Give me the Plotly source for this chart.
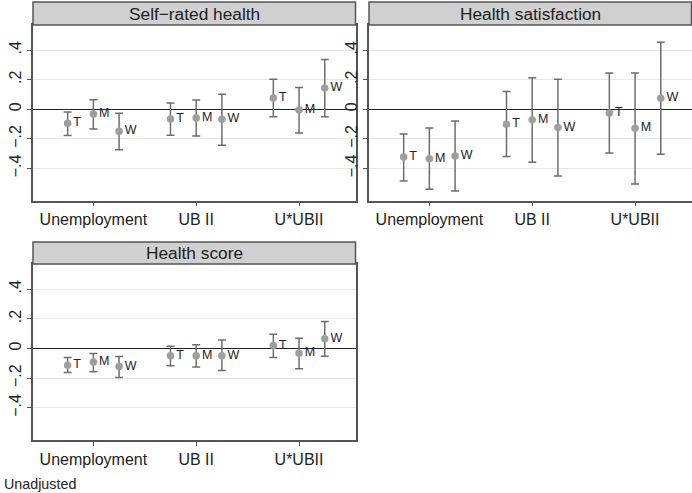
import plotly.graph_objects as go

W, H = 692, 493

categories = ["Unemployment", "UB II", "U*UBII"]
groups = ["T", "M", "W"]
panel_titles = ["Self−rated health", "Health satisfaction", "Health score"]

# estimates and confidence bounds: [panel][group][category]
est_self = {"T": [-0.095, -0.065, 0.077], "M": [-0.032, -0.059, -0.005], "W": [-0.149, -0.068, 0.144]}
lo_self = {"T": [-0.178, -0.176, -0.050], "M": [-0.133, -0.180, -0.160], "W": [-0.273, -0.244, -0.050]}
hi_self = {"T": [-0.018, 0.043, 0.203], "M": [0.065, 0.063, 0.147], "W": [-0.027, 0.101, 0.336]}

est_sat = {"T": [-0.322, -0.101, -0.025], "M": [-0.334, -0.070, -0.129], "W": [-0.316, -0.124, 0.074]}
lo_sat = {"T": [-0.485, -0.320, -0.295], "M": [-0.541, -0.359, -0.505], "W": [-0.552, -0.451, -0.304]}
hi_sat = {"T": [-0.167, 0.120, 0.246], "M": [-0.126, 0.214, 0.246], "W": [-0.079, 0.203, 0.453]}

est_score = {"T": [-0.113, -0.048, 0.020], "M": [-0.091, -0.048, -0.032], "W": [-0.122, -0.048, 0.066]}
lo_score = {"T": [-0.161, -0.116, -0.061], "M": [-0.156, -0.125, -0.136], "W": [-0.195, -0.149, -0.052]}
hi_score = {"T": [-0.061, 0.016, 0.097], "M": [-0.034, 0.025, 0.070], "W": [-0.054, 0.057, 0.183]}

ytick_vals = [-0.4, -0.2, 0, 0.2, 0.4]
ytick_text = ["−.4", "−.2", "0", ".2", ".4"]
note = "Unadjusted"

panels_data = [(est_self, lo_self, hi_self), (est_sat, lo_sat, hi_sat), (est_score, lo_score, hi_score)]

# layout geometry in pixels: (x0, x1, plot_top, plot_bottom, strip_top)
geom = [
    (33, 355.5, 25, 200.5, 2),
    (369, 691.5, 25, 200.5, 2),
    (33, 355.5, 264, 440, 242),
]
offsets = {"T": -0.25, "M": 0.0, "W": 0.25}

FONT = "Liberation Sans, Arial, sans-serif"
pt_color = "#9e9e9e"
bar_color = "#6e6e6e"
line_color = "#555555"

fig = go.Figure()
shapes = []
annotations = []

for i, (est, lo, hi) in enumerate(panels_data):
    ax = "" if i == 0 else str(i + 1)
    x0, x1, pt, pb, st = geom[i]
    for g in groups:
        xs = [k + 1 + offsets[g] for k in range(len(categories))]
        fig.add_trace(go.Scatter(
            x=xs, y=est[g], mode="markers+text",
            text=[g] * len(categories), textposition="middle right",
            textfont=dict(family=FONT, size=12.5, color="#222222"),
            marker=dict(color=pt_color, size=7.5),
            error_y=dict(type="data", symmetric=False,
                         array=[h - e for h, e in zip(hi[g], est[g])],
                         arrayminus=[e - l for e, l in zip(est[g], lo[g])],
                         color=bar_color, thickness=1.5, width=4),
            xaxis="x" + ax, yaxis="y" + ax, showlegend=False, cliponaxis=False,
        ))
    fig.update_layout(**{
        "xaxis" + ax: dict(
            domain=[x0 / W, x1 / W], range=[0.413, 3.549],
            tickvals=[1, 2, 3], ticktext=categories,
            ticks="outside", ticklen=4, tickcolor=line_color, tickwidth=1.2,
            showline=True, mirror=True, linecolor=line_color, linewidth=1.5,
            showgrid=False, zeroline=False, anchor="y" + ax,
            tickfont=dict(family=FONT, size=16, color="#222222"),
            fixedrange=True,
        ),
        "yaxis" + ax: dict(
            domain=[1 - pb / H, 1 - pt / H], range=[-0.617, 0.57],
            tickvals=ytick_vals, ticktext=ytick_text, tickangle=-90,
            ticks="outside", ticklen=4, tickcolor=line_color, tickwidth=1.2,
            showline=True, mirror=True, linecolor=line_color, linewidth=1.5,
            showgrid=True, gridcolor="#e6e6e6", gridwidth=1.3,
            zeroline=True, zerolinecolor="#222222", zerolinewidth=1.3,
            anchor="x" + ax,
            tickfont=dict(family=FONT, size=16, color="#222222"),
            fixedrange=True,
        ),
    })
    shapes.append(dict(type="rect", xref="paper", yref="paper",
                       x0=x0 / W, x1=x1 / W, y0=1 - pt / H, y1=1 - st / H,
                       fillcolor="#d0d0d0", line=dict(color=line_color, width=1.5)))
    annotations.append(dict(xref="paper", yref="paper", x=(x0 + x1) / 2 / W,
                            y=1 - (st + pt) / 2 / H, text=panel_titles[i], showarrow=False,
                            xanchor="center", yanchor="middle",
                            font=dict(family=FONT, size=17.3, color="#222222")))

annotations.append(dict(xref="paper", yref="paper", x=2 / W, y=1 - 484 / H, text=note,
                        showarrow=False, xanchor="left", yanchor="middle",
                        font=dict(family=FONT, size=14.3, color="#222222")))

fig.update_layout(width=W, height=H, autosize=False,
                  margin=dict(l=0, r=0, t=0, b=0),
                  paper_bgcolor="white", plot_bgcolor="white",
                  shapes=shapes, annotations=annotations)

fig.write_html("out.html", config={"displayModeBar": False},
               post_script="document.body.style.margin='0';document.body.style.overflow='hidden';")
